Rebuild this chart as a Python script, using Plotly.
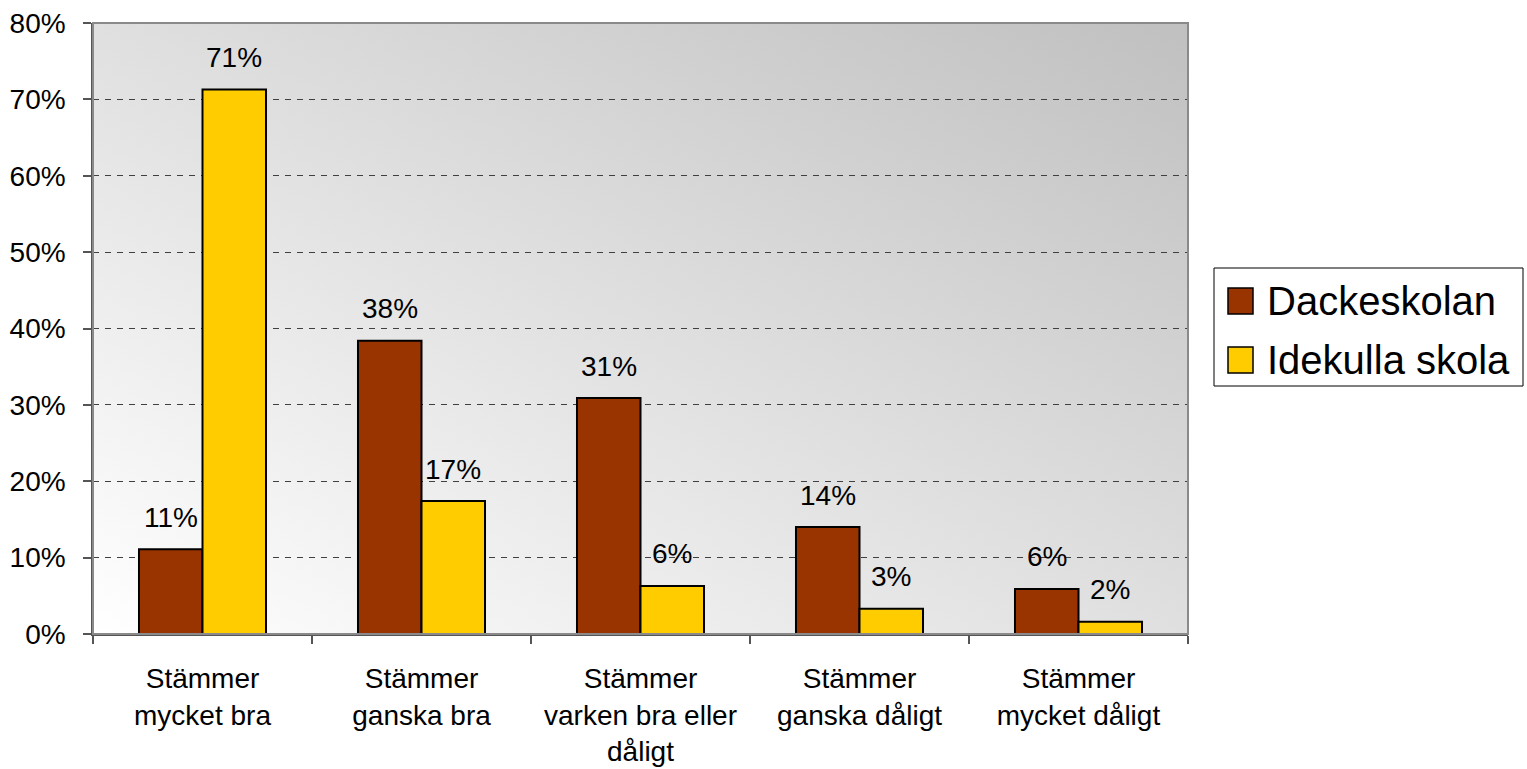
import base64
import plotly.graph_objects as go

categories = [
    "Stämmer<br>mycket bra",
    "Stämmer<br>ganska bra",
    "Stämmer<br>varken bra eller<br>dåligt",
    "Stämmer<br>ganska dåligt",
    "Stämmer<br>mycket dåligt",
]
series_names = ["Dackeskolan", "Idekulla skola"]
dackeskolan = [0.111, 0.384, 0.309, 0.140, 0.059]
idekulla = [0.713, 0.174, 0.063, 0.033, 0.016]
series_values = [dackeskolan, idekulla]
series_colors = ["#993300", "#FFCC00"]
y_tickvals = [0, 0.1, 0.2, 0.3, 0.4, 0.5, 0.6, 0.7, 0.8]

W, H = 1527, 769
L, T, R, B = 93, 23, 1188, 634
FONT = "Liberation Sans, Arial, sans-serif"
FS = 28

fig = go.Figure()
idx = list(range(len(categories)))
for name, vals, col in zip(series_names, series_values, series_colors):
    fig.add_trace(go.Bar(
        x=idx, y=vals, name=name,
        marker=dict(color=col, line=dict(color="black", width=2)),
        showlegend=False,
    ))

# data labels
bargap = 0.42
bw = (1 - bargap) / 2
offsets = [-bw / 2, bw / 2]
for vals, off in zip(series_values, offsets):
    for i, v in enumerate(vals):
        fig.add_annotation(
            x=i + off, y=v, xref="x", yref="y",
            text=f"{round(v * 100)}%", showarrow=False,
            yanchor="middle", yshift=32,
            font=dict(size=FS, color="black", family=FONT),
        )

# gradient background
svg = ("<svg xmlns='http://www.w3.org/2000/svg' width='100' height='100' "
       "viewBox='0 0 100 100' preserveAspectRatio='none'><defs>"
       "<linearGradient id='g' x1='0' y1='1' x2='1' y2='0'>"
       "<stop offset='0' stop-color='#ffffff'/>"
       "<stop offset='1' stop-color='#c0c0c0'/></linearGradient></defs>"
       "<rect width='100' height='100' fill='url(#g)'/></svg>")
uri = "data:image/svg+xml;base64," + base64.b64encode(svg.encode()).decode()
fig.add_layout_image(dict(source=uri, xref="paper", yref="paper", x=0, y=1,
                          sizex=1, sizey=1, sizing="stretch", layer="below",
                          xanchor="left", yanchor="top"))

# plot border (top/right)
fig.add_shape(type="rect", xref="paper", yref="paper", x0=0, y0=0, x1=1, y1=1,
              line=dict(color="#8a8a8a", width=2), layer="above")

def px_x(p):
    return (p - L) / (R - L)

def px_y(p):
    return (B - p) / (B - T)

# manual legend
fig.add_shape(type="rect", xref="paper", yref="paper",
              x0=px_x(1214), x1=px_x(1523), y0=px_y(386), y1=px_y(268),
              line=dict(color="black", width=1), fillcolor="white")
leg_centers = [301, 360]
for name, col, cy in zip(series_names, series_colors, leg_centers):
    fig.add_shape(type="rect", xref="paper", yref="paper",
                  x0=px_x(1228), x1=px_x(1253), y0=px_y(cy + 13), y1=px_y(cy - 13),
                  line=dict(color="black", width=1.5), fillcolor=col)
    fig.add_annotation(x=px_x(1265), y=px_y(cy), xref="paper", yref="paper",
                       text=name, showarrow=False, xanchor="left", yanchor="middle",
                       font=dict(size=40, color="black", family=FONT))

fig.update_layout(
    width=W, height=H, autosize=False,
    margin=dict(l=L, r=W - R, t=T, b=H - B, pad=0, autoexpand=False),
    paper_bgcolor="white", plot_bgcolor="rgba(0,0,0,0)",
    barmode="group", bargap=bargap, bargroupgap=0,
    font=dict(family=FONT, size=FS, color="black"),
    showlegend=False,
)
fig.update_xaxes(
    automargin=False,
    tickmode="array", tickvals=idx, ticktext=categories,
    range=[-0.5, len(categories) - 0.5],
    showgrid=False, zeroline=False,
    showline=True, linecolor="#555555", linewidth=1.5,
    ticks="", ticklen=8,
    tickfont=dict(size=FS, family=FONT, color="black"),
    ticklabelstandoff=19,
    minor=dict(tickmode="array",
               tickvals=[i - 0.5 for i in range(len(categories) + 1)],
               ticks="outside", ticklen=8, tickcolor="#555555", tickwidth=1.5,
               showgrid=False),
)
fig.update_yaxes(
    automargin=False,
    range=[0, 0.8], tickmode="array", tickvals=y_tickvals, tickformat=".0%",
    showgrid=True, gridcolor="#404040", gridwidth=1, griddash="6px,6px",
    zeroline=False,
    showline=True, linecolor="#555555", linewidth=1.5,
    ticks="outside", ticklen=8, tickcolor="#555555", tickwidth=1.5,
    tickfont=dict(size=FS, family=FONT, color="black"),
    ticklabelstandoff=12,
)

fig.write_html(
    "out.html",
    config={"displayModeBar": False},
    post_script="document.body.style.margin='0px';document.body.style.overflow='hidden';",
)
